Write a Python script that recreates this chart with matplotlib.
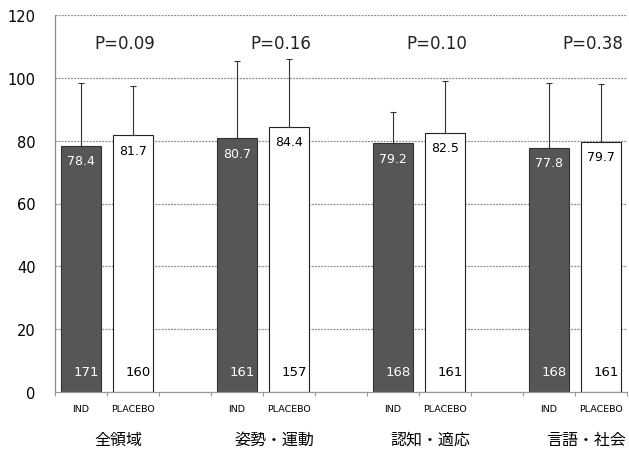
import matplotlib
matplotlib.use("Agg")
import matplotlib.pyplot as plt
import numpy as np

plt.rcParams['font.family'] = ['DejaVu Sans', 'Noto Sans CJK JP']

groups = ["全領域", "姿勢・運動", "認知・適応", "言語・社会"]
series = ["IND", "PLACEBO"]
ind_mean = [78.4, 80.7, 79.2, 77.8]
pla_mean = [81.7, 84.4, 82.5, 79.7]
ind_upper = [98.2, 105.4, 89.1, 98.2]
pla_upper = [97.3, 106.1, 99.0, 97.9]
ind_n = [171, 161, 168, 168]
pla_n = [160, 157, 161, 161]
pvals = ["P=0.09", "P=0.16", "P=0.10", "P=0.38"]
yticks = [0, 20, 40, 60, 80, 100, 120]

fig = plt.figure(figsize=(6.29, 4.52), dpi=100)
ax = fig.add_axes([55/629, 1-393/452, 572/629, 377/452])

ncat = 3 * len(groups) - 1
ax.set_xlim(-0.5, ncat - 0.5)
ax.set_ylim(0, 120)

grid_style = (0, (1.5, 1))
for y in yticks[1:]:
    ax.axhline(y, color='#8a8a8a', lw=0.9, ls=grid_style, zorder=0)

w = 0.76
dark = '#565656'
xi = np.arange(len(groups)) * 3
xp = xi + 1
ax.bar(xi, ind_mean, width=w, color=dark, edgecolor='#333333', lw=0.8, zorder=2)
ax.bar(xp, pla_mean, width=w, color='white', edgecolor='#222222', lw=0.8, zorder=2)

ind_err = np.array(ind_upper) - np.array(ind_mean)
pla_err = np.array(pla_upper) - np.array(pla_mean)
ax.errorbar(xi, ind_mean, yerr=[np.zeros(4), ind_err], fmt='none', ecolor='#333333',
            elinewidth=0.8, capsize=2.5, capthick=0.8, zorder=3)
ax.errorbar(xp, pla_mean, yerr=[np.zeros(4), pla_err], fmt='none', ecolor='#333333',
            elinewidth=0.8, capsize=2.5, capthick=0.8, zorder=3)

for i in range(len(groups)):
    ax.annotate(f"{ind_mean[i]:.1f}", (xi[i], ind_mean[i]), xytext=(0, -6),
                textcoords='offset points', ha='center', va='top', color='white', fontsize=9, zorder=4)
    ax.annotate(f"{pla_mean[i]:.1f}", (xp[i], pla_mean[i]), xytext=(0, -6),
                textcoords='offset points', ha='center', va='top', color='black', fontsize=9, zorder=4)
    ax.text(xi[i] + 0.1, 6.5, str(ind_n[i]), ha='center', va='center', color='white', fontsize=9.5, zorder=4)
    ax.text(xp[i] + 0.1, 6.5, str(pla_n[i]), ha='center', va='center', color='black', fontsize=9.5, zorder=4)
    ax.text(xi[i] + 0.85, 111, pvals[i], ha='center', va='center', fontsize=12, color='#222222')
    ax.text(xi[i] + 0.72, -15, groups[i], ha='center', va='center', fontsize=11.5,
            family=['Noto Sans CJK JP', 'DejaVu Sans'], clip_on=False)

pos = []
labs = []
for i in range(len(groups)):
    pos += [xi[i], xp[i]]
    labs += series
ax.set_xticks(pos)
ax.set_xticklabels(labs, fontsize=6.8)
ax.tick_params(axis='x', length=0, pad=9)
ax.set_xticks(np.arange(-0.5, ncat, 1), minor=True)
ax.tick_params(axis='x', which='minor', length=3, color='#999999', width=0.8)

ax.set_yticks(yticks)
ax.set_yticklabels([str(v) for v in yticks], fontsize=10.5)
ax.tick_params(axis='y', length=0, pad=14)

for s in ['top', 'right']:
    ax.spines[s].set_visible(False)
ax.spines['left'].set_color('#8a8a8a')
ax.spines['left'].set_linestyle(grid_style)
ax.spines['left'].set_linewidth(0.9)
ax.spines['bottom'].set_color('#999999')
ax.spines['bottom'].set_linewidth(0.9)

fig.savefig("out.png", dpi=100)
